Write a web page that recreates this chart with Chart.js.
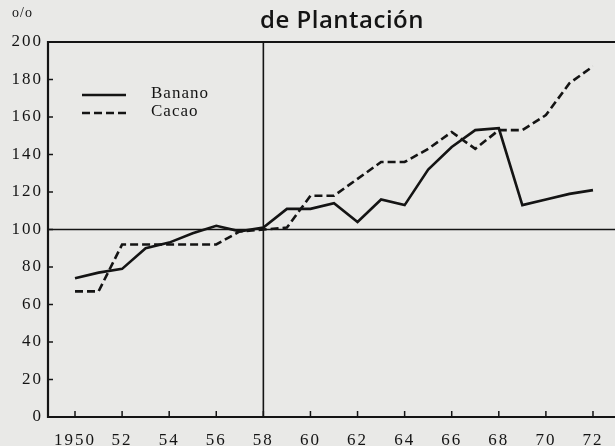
<!DOCTYPE html>
<html><head><meta charset="utf-8">
<style>
html,body{margin:0;padding:0;background:#e9e9e7;}
#wrap{width:615px;height:446px;position:relative;}
</style>
<script src="https://cdn.jsdelivr.net/npm/chart.js@4/dist/chart.umd.min.js"></script>
</head><body>
<div id="wrap"><canvas id="c" width="615" height="446"></canvas></div>
<script>
// ---- data ----
const titleText = 'de Plantación';
const unitText = 'o/o';
const years = [1950,1951,1952,1953,1954,1955,1956,1957,1958,1959,1960,1961,1962,1963,1964,1965,1966,1967,1968,1969,1970,1971,1972];
const banano = [74,77,79,90,93,98,102,99,101,111,111,114,104,116,113,132,144,153,154,113,116,119,121];
const cacao  = [67,67,92,92,92,92,92,99,100,101,118,118,127,136,136,143,152,143,153,153,161,178,187];
const seriesNames = ['Banano','Cacao'];
const xTickValues = [1950,1952,1954,1956,1958,1960,1962,1964,1966,1968,1970,1972];
const xTickLabels = ['1950','52','54','56','58','60','62','64','66','68','70','72'];
const yTickValues = [0,20,40,60,80,100,120,140,160,180,200];
const refYear = 1958;
const refValue = 100;

const INK = '#141414';
const serif = '"Liberation Serif", "DejaVu Serif", serif';

const decor = {
  id: 'decor',
  beforeDraw(chart) {
    const ctx = chart.ctx;
    ctx.save();
    ctx.fillStyle = '#e9e9e7';
    ctx.fillRect(0, 0, chart.width, chart.height);
    ctx.restore();
    try { ctx.letterSpacing = '2px'; } catch(e) {}
  },
  beforeDatasetsDraw(chart) {
    const {ctx, chartArea: a, scales: {x, y}} = chart;
    ctx.save();
    ctx.letterSpacing = '0px';
    ctx.strokeStyle = INK;
    // reference lines
    ctx.lineWidth = 1.6;
    const yr = y.getPixelForValue(refValue);
    ctx.beginPath(); ctx.moveTo(a.left, yr); ctx.lineTo(a.right, yr); ctx.stroke();
    const xr = x.getPixelForValue(refYear);
    ctx.beginPath(); ctx.moveTo(xr, a.top); ctx.lineTo(xr, a.bottom); ctx.stroke();
    // frame: left, bottom, top
    ctx.lineWidth = 2.2;
    ctx.beginPath();
    ctx.moveTo(a.right, a.top); ctx.lineTo(a.left, a.top);
    ctx.lineTo(a.left, a.bottom); ctx.lineTo(a.right, a.bottom);
    ctx.stroke();
    // tick marks
    ctx.lineWidth = 1.5;
    xTickValues.forEach(v => {
      const px = x.getPixelForValue(v);
      ctx.beginPath(); ctx.moveTo(px, a.bottom); ctx.lineTo(px, a.bottom - 6); ctx.stroke();
    });
    yTickValues.forEach(v => {
      if (v === 0 || v === 200) return;
      const py = y.getPixelForValue(v);
      ctx.beginPath(); ctx.moveTo(a.left, py); ctx.lineTo(a.left + 5, py); ctx.stroke();
    });
    ctx.restore();
  },
  afterDraw(chart) {
    const ctx = chart.ctx;
    const ds = chart.data.datasets;
    ctx.save();
    ctx.fillStyle = INK;
    // title
    ctx.letterSpacing = '0.5px';
    ctx.font = '600 24px "Open Sans", sans-serif';
    ctx.textAlign = 'center';
    ctx.textBaseline = 'alphabetic';
    ctx.fillText(titleText, 342, 28);
    // unit label
    ctx.letterSpacing = '1px';
    ctx.font = '14px ' + serif;
    ctx.textAlign = 'left';
    ctx.fillText(unitText, 12, 17);
    // legend
    ctx.letterSpacing = '1px';
    ctx.font = '17px ' + serif;
    ctx.textBaseline = 'middle';
    const rows = [95, 113];
    ds.forEach((d, i) => {
      ctx.strokeStyle = INK;
      ctx.lineWidth = 2.4;
      ctx.setLineDash(d.borderDash || []);
      ctx.beginPath(); ctx.moveTo(82, rows[i]); ctx.lineTo(126, rows[i]); ctx.stroke();
      ctx.setLineDash([]);
      ctx.fillText(d.label, 151, rows[i] - 1);
    });
    ctx.restore();
  }
};

new Chart(document.getElementById('c'), {
  type: 'line',
  data: {
    datasets: [
      { label: seriesNames[0], data: years.map((yv, i) => ({x: yv, y: banano[i]})),
        borderColor: INK, borderWidth: 2.6, pointRadius: 0, tension: 0, fill: false },
      { label: seriesNames[1], data: years.map((yv, i) => ({x: yv, y: cacao[i]})),
        borderColor: INK, borderWidth: 2.6, borderDash: [8, 4], pointRadius: 0, tension: 0, fill: false }
    ]
  },
  options: {
    responsive: false,
    animation: false,
    devicePixelRatio: 1,
    layout: { padding: { top: 42, right: 0, left: 0, bottom: 0 } },
    plugins: { legend: { display: false }, tooltip: { enabled: false }, title: { display: false } },
    scales: {
      x: {
        type: 'linear', min: 1948.853, max: 1972.935,
        afterBuildTicks: s => { s.ticks = xTickValues.map(v => ({value: v})); },
        afterFit: s => { s.height = 29; },
        grid: { display: false, drawTicks: false },
        border: { display: false },
        ticks: {
          autoSkip: false, maxRotation: 0, padding: 13, color: INK,
          font: { family: serif, size: 17 },
          callback: (v) => xTickLabels[xTickValues.indexOf(v)]
        }
      },
      y: {
        type: 'linear', min: 0, max: 200,
        afterBuildTicks: s => { s.ticks = yTickValues.map(v => ({value: v})); },
        afterFit: s => { s.width = 48; },
        grid: { display: false, drawTicks: false },
        border: { display: false },
        ticks: { padding: 5, color: INK, font: { family: serif, size: 17 } }
      }
    }
  },
  plugins: [decor]
});
</script>
</body></html>
